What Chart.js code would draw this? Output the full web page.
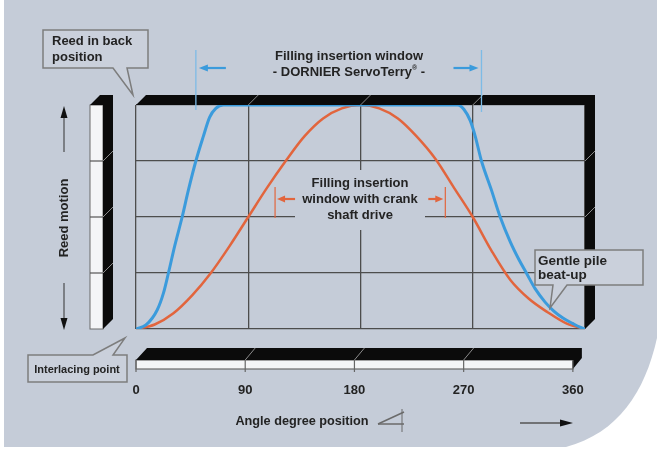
<!DOCTYPE html>
<html>
<head>
<meta charset="utf-8">
<script src="https://cdn.jsdelivr.net/npm/chart.js@4.4.1/dist/chart.umd.min.js"></script>
<style>
  html, body { margin: 0; padding: 0; background: #fff; }
</style>
</head>
<body>
<canvas id="chart" width="657" height="452"></canvas>
<script>
// reed motion, 0 = interlacing point, 1 = reed in back position
const blueAngles = [0, 8, 17, 22, 26, 31, 37, 42, 48, 54, 59, 64, 70, 258, 263, 268, 272, 277, 285, 292, 300, 307, 313, 320, 328, 335, 342, 350, 356, 360];
const blueMotion = [0, 0.018, 0.085, 0.16, 0.25, 0.37, 0.5, 0.62, 0.75, 0.86, 0.945, 0.985, 1, 1, 0.98, 0.93, 0.86, 0.75, 0.62, 0.5, 0.39, 0.31, 0.25, 0.18, 0.12, 0.08, 0.05, 0.025, 0.008, 0];
const crankAngles = [0, 15, 30, 45, 60, 75, 90, 105, 120, 135, 150, 165, 180, 195, 210, 225, 240, 255, 270, 285, 300, 315, 330, 345, 360];
const crankMotion = [0, 0.02, 0.07, 0.15, 0.25, 0.37, 0.5, 0.63, 0.75, 0.86, 0.94, 0.985, 1, 0.985, 0.94, 0.86, 0.76, 0.63, 0.5, 0.35, 0.22, 0.135, 0.075, 0.025, 0];
const angleTicks = [0, 90, 180, 270, 360];
const motionTicks = [0.25, 0.5, 0.75];
const servoWindow = [48, 277];
const crankWindow = [111.5, 248];

const panel = "#c5ccd8";
const boxFill = "#cad0db";
const ink = "#232323";
const blue = "#3b9bdc";
const orange = "#e2653d";
const fam = '"Liberation Sans", Arial, sans-serif';

function callout(ctx, x, y, w, h, edge, b1, b2, tx, ty) {
  ctx.beginPath();
  ctx.moveTo(x, y);
  if (edge === "top") { ctx.lineTo(b1, y); ctx.lineTo(tx, ty); ctx.lineTo(b2, y); }
  ctx.lineTo(x + w, y);
  ctx.lineTo(x + w, y + h);
  if (edge === "bottom") { ctx.lineTo(b2, y + h); ctx.lineTo(tx, ty); ctx.lineTo(b1, y + h); }
  ctx.lineTo(x, y + h);
  ctx.closePath();
  ctx.fillStyle = boxFill;
  ctx.fill();
  ctx.strokeStyle = "#7d7d7d";
  ctx.lineWidth = 1.5;
  ctx.stroke();
}

function arrowHead(ctx, x, y, dx, dy, len, half, color) {
  // dx,dy = unit direction the arrow points to
  ctx.beginPath();
  ctx.moveTo(x, y);
  ctx.lineTo(x - dx * len - dy * half, y - dy * len + dx * half);
  ctx.lineTo(x - dx * len + dy * half, y - dy * len - dx * half);
  ctx.closePath();
  ctx.fillStyle = color;
  ctx.fill();
}

function line(ctx, x1, y1, x2, y2, color, w) {
  ctx.beginPath();
  ctx.moveTo(x1, y1);
  ctx.lineTo(x2, y2);
  ctx.strokeStyle = color;
  ctx.lineWidth = w;
  ctx.stroke();
}

const decor = {
  id: "decor",
  beforeDraw(chart) {
    const ctx = chart.ctx;
    ctx.save();
    ctx.fillStyle = "#fff";
    ctx.fillRect(0, 0, chart.width, chart.height);
    ctx.fillStyle = panel;
    ctx.beginPath();
    ctx.moveTo(4, 0);
    ctx.lineTo(657, 0);
    ctx.lineTo(657, 338);
    ctx.bezierCurveTo(645, 392, 618, 433, 566, 447);
    ctx.lineTo(4, 447);
    ctx.closePath();
    ctx.fill();
    ctx.restore();
  },
  beforeDatasetsDraw(chart) {
    const ctx = chart.ctx;
    ctx.save();
    ctx.fillStyle = panel;
    ctx.fillRect(295, 170, 130, 60);
    ctx.restore();
  },
  afterDatasetsDraw(chart) {
    const ctx = chart.ctx;
    const a = chart.chartArea;
    const x = chart.scales.x, y = chart.scales.y, x2 = chart.scales.x2;
    const d = 10;
    ctx.save();

    // 3D frame of the plot: top and right bars
    ctx.fillStyle = "#0b0b0b";
    ctx.beginPath();
    ctx.moveTo(a.left, a.top);
    ctx.lineTo(a.left + d, a.top - d);
    ctx.lineTo(a.right + d, a.top - d);
    ctx.lineTo(a.right + d, a.bottom - d);
    ctx.lineTo(a.right, a.bottom);
    ctx.lineTo(a.right, a.top);
    ctx.closePath();
    ctx.fill();
    angleTicks.slice(1, 4).forEach(v => {
      const px = x.getPixelForValue(v);
      line(ctx, px, a.top, px + d, a.top - d, "#8a8a8a", 1);
    });
    motionTicks.forEach(v => {
      const py = y.getPixelForValue(v);
      line(ctx, a.right, py, a.right + d, py - d, "#8a8a8a", 1);
    });

    // reed bar on the left
    const rl = 90, rw = 13;
    ctx.fillStyle = "#f4f5f7";
    ctx.fillRect(rl, a.top, rw, a.bottom - a.top);
    ctx.strokeStyle = "#6a6a6a";
    ctx.lineWidth = 1;
    ctx.strokeRect(rl, a.top, rw, a.bottom - a.top);
    motionTicks.forEach(v => {
      const py = y.getPixelForValue(v);
      line(ctx, rl, py, rl + rw, py, "#555", 1.2);
    });
    ctx.fillStyle = "#0b0b0b";
    ctx.beginPath();
    ctx.moveTo(rl, a.top);
    ctx.lineTo(rl + d, a.top - d);
    ctx.lineTo(rl + rw + d, a.top - d);
    ctx.lineTo(rl + rw + d, a.bottom - d);
    ctx.lineTo(rl + rw, a.bottom);
    ctx.lineTo(rl + rw, a.top);
    ctx.closePath();
    ctx.fill();
    motionTicks.forEach(v => {
      const py = y.getPixelForValue(v);
      line(ctx, rl + rw, py, rl + rw + d, py - d, "#8a8a8a", 1);
    });

    // bottom angle bar
    const bt = 348, bb = 360, bw = 369;
    const bl = x2.getPixelForValue(0), br = x2.getPixelForValue(360);
    ctx.fillStyle = "#f4f5f7";
    ctx.fillRect(bl, bb, br - bl, bw - bb);
    ctx.strokeStyle = "#6a6a6a";
    ctx.lineWidth = 1.2;
    ctx.strokeRect(bl, bb, br - bl, bw - bb);
    ctx.fillStyle = "#0b0b0b";
    ctx.beginPath();
    ctx.moveTo(bl, bb);
    ctx.lineTo(bl + 11, bt);
    ctx.lineTo(br + 9, bt);
    ctx.lineTo(br + 9, bt + 10);
    ctx.lineTo(br, bw);
    ctx.lineTo(br, bb);
    ctx.closePath();
    ctx.fill();
    angleTicks.forEach(v => {
      const px = x2.getPixelForValue(v);
      line(ctx, px, bb, px, bw + 3, "#666", 1.2);
      if (v > 0 && v < 360) line(ctx, px, bb, px + 10, bt, "#8a8a8a", 1);
    });

    // insertion window markers, ServoTerry (blue)
    const s1 = x.getPixelForValue(servoWindow[0]);
    const s2 = x.getPixelForValue(servoWindow[1]);
    line(ctx, s1, 50, s1, 110, "#7dbbe6", 1.3);
    line(ctx, s2, 50, s2, 112, "#7dbbe6", 1.3);
    line(ctx, s1 + 30, 68, s1 + 8, 68, blue, 2.2);
    arrowHead(ctx, s1 + 3, 68, -1, 0, 9, 3.5, blue);
    line(ctx, s2 - 28, 68, s2 - 8, 68, blue, 2.2);
    arrowHead(ctx, s2 - 3, 68, 1, 0, 9, 3.5, blue);

    // insertion window markers, crank shaft drive (orange)
    const c1 = x.getPixelForValue(crankWindow[0]);
    const c2 = x.getPixelForValue(crankWindow[1]);
    line(ctx, c1, 187, c1, 218, orange, 1.2);
    line(ctx, c2, 187, c2, 218, orange, 1.2);
    line(ctx, c1 + 20, 199, c1 + 8, 199, orange, 2.2);
    arrowHead(ctx, c1 + 2, 199, -1, 0, 8, 3.5, orange);
    line(ctx, c2 - 17, 199, c2 - 8, 199, orange, 2.2);
    arrowHead(ctx, c2 - 2, 199, 1, 0, 8, 3.5, orange);

    // reed motion arrows
    line(ctx, 64, 152, 64, 112, "#333", 1);
    arrowHead(ctx, 64, 106, 0, -1, 12, 3.5, "#111");
    line(ctx, 64, 283, 64, 324, "#333", 1);
    arrowHead(ctx, 64, 330, 0, 1, 12, 3.5, "#111");

    // angle arrow and symbol
    line(ctx, 520, 423, 562, 423, "#555", 1.5);
    arrowHead(ctx, 573, 423, 1, 0, 13, 3.5, "#111");
    line(ctx, 378, 424, 404, 424, "#6a6a6a", 1.5);
    line(ctx, 378, 424, 404, 412, "#6a6a6a", 1.5);
    line(ctx, 402, 409, 402, 432, "#6a6a6a", 1);

    // callouts
    callout(ctx, 43, 30, 105, 38, "bottom", 113, 127, 133, 95);
    callout(ctx, 535, 250, 108, 35, "bottom", 553, 567, 550, 308);
    callout(ctx, 28, 355, 99, 27, "top", 93, 113, 125, 338);

    // texts
    ctx.fillStyle = ink;
    ctx.textBaseline = "middle";
    ctx.font = "bold 13px " + fam;
    ctx.textAlign = "left";
    ctx.fillText("Reed in back", 52, 41);
    ctx.fillText("position", 52, 57);
    ctx.font = "bold 13.5px " + fam;
    ctx.fillText("Gentle pile", 538, 261);
    ctx.fillText("beat-up", 538, 275);
    ctx.font = "bold 11px " + fam;
    ctx.textAlign = "center";
    ctx.fillText("Interlacing point", 77, 370);

    ctx.font = "bold 13px " + fam;
    ctx.fillText("Filling insertion window", 349, 56);
    const p1 = "- DORNIER ServoTerry", p2 = "®", p3 = " -";
    const w1 = ctx.measureText(p1).width, w3 = ctx.measureText(p3).width;
    ctx.font = "bold 7px " + fam;
    const w2 = ctx.measureText(p2).width;
    let sx = 349 - (w1 + w2 + w3) / 2;
    ctx.textAlign = "left";
    ctx.font = "bold 13px " + fam;
    ctx.fillText(p1, sx, 72);
    ctx.font = "bold 7px " + fam;
    ctx.fillText(p2, sx + w1, 68);
    ctx.font = "bold 13px " + fam;
    ctx.fillText(p3, sx + w1 + w2, 72);

    ctx.textAlign = "center";
    ctx.fillText("Filling insertion", 360, 183);
    ctx.fillText("window with crank", 360, 199);
    ctx.fillText("shaft drive", 360, 215);

    ctx.font = "bold 12.7px " + fam;
    ctx.fillText("Angle degree position", 302, 421);

    ctx.font = "bold 13px " + fam;
    ctx.translate(64, 218);
    ctx.rotate(-Math.PI / 2);
    ctx.fillText("Reed motion", 0, 0);
    ctx.restore();
  }
};

new Chart(document.getElementById("chart"), {
  type: "line",
  data: {
    datasets: [
      {
        label: "DORNIER ServoTerry",
        data: blueAngles.map((v, i) => ({ x: v, y: blueMotion[i] })),
        borderColor: blue,
        borderWidth: 3,
        pointRadius: 0,
        cubicInterpolationMode: "monotone",
        tension: 0.4,
      },
      {
        label: "Crank shaft drive",
        data: crankAngles.map((v, i) => ({ x: v, y: crankMotion[i] })),
        borderColor: orange,
        borderWidth: 2.5,
        pointRadius: 0,
        cubicInterpolationMode: "monotone",
        tension: 0.4,
      },
    ],
  },
  options: {
    responsive: false,
    animation: false,
    devicePixelRatio: 1,
    layout: { padding: { left: 136, right: 72, top: 105, bottom: 55 } },
    plugins: { legend: { display: false }, tooltip: { enabled: false } },
    scales: {
      x: {
        type: "linear",
        position: "bottom",
        min: 0,
        max: 360,
        ticks: { display: false, stepSize: 90 },
        grid: { color: "#4d4d4d", lineWidth: 1.3, drawTicks: false },
        border: { display: false },
        afterFit: (s) => { s.height = 0; },
      },
      x2: {
        type: "linear",
        position: "bottom",
        min: 0,
        max: 370,
        afterBuildTicks: (s) => { s.ticks = angleTicks.map((v) => ({ value: v })); },
        afterFit: (s) => { s.height = 68; },
        ticks: {
          padding: 54,
          color: ink,
          font: { family: fam, size: 13, weight: "bold" },
        },
        grid: { display: false, drawTicks: false },
        border: { display: false },
      },
      y: {
        min: 0,
        max: 1,
        ticks: { display: false, stepSize: 0.25 },
        grid: { color: "#4d4d4d", lineWidth: 1.3, drawTicks: false },
        border: { display: false },
      },
    },
  },
  plugins: [decor],
});
</script>
</body>
</html>
